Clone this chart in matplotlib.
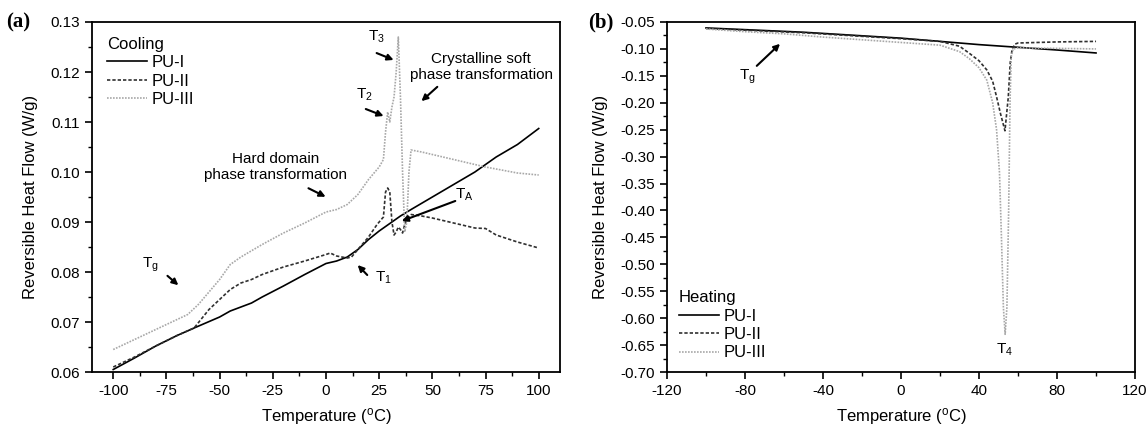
import numpy as np
import matplotlib as mpl
mpl.use('Agg')
import matplotlib.pyplot as plt
from matplotlib.ticker import MultipleLocator

plt.rcParams['font.family'] = ['Liberation Sans', 'DejaVu Sans']
plt.rcParams['mathtext.fontset'] = 'custom'
plt.rcParams['mathtext.rm'] = 'Liberation Sans'
plt.rcParams['mathtext.it'] = 'Liberation Sans'
plt.rcParams['axes.unicode_minus'] = False

# ---- (a) cooling ----
T_a1 = [-100, -90, -80, -70, -62, -50, -45, -40, -35, -30, -20, -10, 0, 5, 10, 15, 20, 25, 30,
        35, 40, 50, 60, 70, 75, 80, 90, 100]
a_pu1 = [0.0605, 0.0628, 0.0652, 0.0673, 0.0688, 0.0710, 0.0722, 0.0730, 0.0738, 0.0750, 0.0772,
         0.0795, 0.0817, 0.0822, 0.0830, 0.0845, 0.0865, 0.0882, 0.0897, 0.0912, 0.0925, 0.0950,
         0.0975, 0.1000, 0.1015, 0.1030, 0.1055, 0.1087]

T_a2 = [-100, -90, -80, -70, -62, -55, -50, -45, -40, -35, -30, -20, -10, 0, 2, 5, 10, 12, 15, 20,
        24, 26, 27, 28, 29, 30, 31, 32, 33, 34, 35, 36, 37, 38, 40, 45, 50, 60, 70, 75, 80, 90, 100]
a_pu2 = [0.0610, 0.0630, 0.0652, 0.0673, 0.0688, 0.0725, 0.0745, 0.0765, 0.0778, 0.0785, 0.0795,
         0.0810, 0.0822, 0.0835, 0.0838, 0.0832, 0.0828, 0.0830, 0.0845, 0.0870, 0.0895, 0.0905,
         0.0910, 0.0960, 0.0968, 0.0960, 0.0900, 0.0874, 0.0880, 0.0890, 0.0885, 0.0878, 0.0895,
         0.0905, 0.0915, 0.0912, 0.0908, 0.0898, 0.0888, 0.0887, 0.0874, 0.0860, 0.0848]

T_a3 = [-100, -90, -80, -70, -65, -60, -55, -50, -45, -40, -30, -20, -10, 0, 5, 10, 15, 20, 25,
        27, 28, 29, 30, 31, 32, 33, 34, 35, 36, 37, 38, 39, 40, 45, 50, 60, 75, 90, 100]
a_pu3 = [0.0645, 0.0665, 0.0685, 0.0705, 0.0715, 0.0735, 0.0760, 0.0785, 0.0815, 0.0830, 0.0855,
         0.0878, 0.0898, 0.0920, 0.0925, 0.0935, 0.0955, 0.0985, 0.1010, 0.1025, 0.1080, 0.1120,
         0.1100, 0.1130, 0.1150, 0.1200, 0.1270, 0.1150, 0.1000, 0.0880, 0.0900, 0.1000, 0.1044,
         0.1040, 0.1035, 0.1025, 0.1010, 0.0998, 0.0994]

# ---- (b) heating ----
T_b1 = [-100, -50, 0, 20, 40, 60, 80, 100]
b_pu1 = [-0.061, -0.069, -0.080, -0.086, -0.092, -0.097, -0.102, -0.1075]

T_b2 = [-100, -50, 0, 20, 30, 35, 40, 44, 47, 49, 51, 53.3, 55, 56, 57, 58.5, 60, 80, 100]
b_pu2 = [-0.062, -0.070, -0.081, -0.086, -0.095, -0.108, -0.122, -0.139, -0.160, -0.189, -0.220,
         -0.252, -0.190, -0.126, -0.100, -0.091, -0.089, -0.087, -0.086]

T_b3 = [-100, -80, -60, -40, -20, 0, 20, 30, 35, 40, 44, 47, 49, 50.5, 51.5, 52.5, 53.4, 54.3,
        55.2, 55.9, 56.5, 57.5, 60, 80, 100]
b_pu3 = [-0.063, -0.068, -0.072, -0.078, -0.083, -0.088, -0.093, -0.105, -0.118, -0.135, -0.158,
         -0.200, -0.250, -0.330, -0.450, -0.580, -0.630, -0.580, -0.400, -0.200, -0.115, -0.100,
         -0.098, -0.099, -0.100]

labels = ["PU-I", "PU-II", "PU-III"]
styles = [dict(color="black", lw=1.2, ls="-"),
          dict(color="#303030", lw=1.2, ls=(0, (2.0, 1.2))),
          dict(color="#a8a8a8", lw=1.2, ls=(0, (1.0, 0.8)))]

fig = plt.figure(figsize=(11.48, 4.28), dpi=100)
axa = fig.add_axes([0.0801, 0.1308, 0.4077, 0.8178])
axb = fig.add_axes([0.5810, 0.1308, 0.4077, 0.8178])

for x, y, lab, st in zip([T_a1, T_a2, T_a3], [a_pu1, a_pu2, a_pu3], labels, styles):
    axa.plot(x, y, label=lab, **st)
for x, y, lab, st in zip([T_b1, T_b2, T_b3], [b_pu1, b_pu2, b_pu3], labels, styles):
    axb.plot(x, y, label=lab, **st)

axa.set_xlim(-110, 110)
axa.set_ylim(0.06, 0.13)
axa.xaxis.set_major_locator(MultipleLocator(25))
axa.xaxis.set_minor_locator(MultipleLocator(12.5))
axa.yaxis.set_major_locator(MultipleLocator(0.01))
axa.yaxis.set_minor_locator(MultipleLocator(0.005))
axa.yaxis.set_major_formatter(mpl.ticker.FormatStrFormatter('%.2f'))

axb.set_xlim(-120, 120)
axb.set_ylim(-0.70, -0.05)
axb.xaxis.set_major_locator(MultipleLocator(40))
axb.xaxis.set_minor_locator(MultipleLocator(20))
axb.yaxis.set_major_locator(MultipleLocator(0.05))
axb.yaxis.set_minor_locator(MultipleLocator(0.025))
axb.yaxis.set_major_formatter(mpl.ticker.FormatStrFormatter('%.2f'))

for _ax in [axa, axb]:
    _ax.tick_params(which='major', direction='out', length=5, width=1.2, labelsize=11)
    _ax.tick_params(which='minor', direction='out', length=3, width=1.0)
    for sp in _ax.spines.values():
        sp.set_linewidth(1.3)
    _ax.set_xlabel("Temperature ($^{\\mathrm{o}}$C)", fontsize=12, labelpad=6)
    _ax.set_ylabel("Reversible Heat Flow (W/g)", fontsize=12, labelpad=9)

leg = axa.legend(title="Cooling", loc="upper left", frameon=False, fontsize=12,
                 title_fontsize=12, handlelength=2.4, handletextpad=0.3,
                 labelspacing=0.2, borderaxespad=0.5)
leg._legend_box.align = "left"
leg = axb.legend(title="Heating", loc="lower left", frameon=False, fontsize=12,
                 title_fontsize=12, handlelength=2.4, handletextpad=0.3,
                 labelspacing=0.2, borderaxespad=0.3)
leg._legend_box.align = "left"

fig.text(0.005, 0.948, "(a)", fontsize=15, fontweight="bold", family="Liberation Serif", va="center")
fig.text(0.512, 0.948, "(b)", fontsize=15, fontweight="bold", family="Liberation Serif", va="center")

arr = dict(arrowstyle="-|>", color="black", lw=1.5, mutation_scale=9)
afs = 11

axa.text(23.6, 0.1270, "T$_3$", fontsize=afs, ha="center", va="center")
axa.annotate("", xy=(33, 0.1222), xytext=(22.6, 0.1240), arrowprops=arr)
axa.text(18, 0.1154, "T$_2$", fontsize=afs, ha="center", va="center")
axa.annotate("", xy=(28.3, 0.1110), xytext=(17.5, 0.1128), arrowprops=arr)
axa.text(73, 0.1210, "Crystalline soft\nphase transformation", fontsize=afs, ha="center", va="center",
         linespacing=1.2)
axa.annotate("", xy=(43.9, 0.1138), xytext=(53.3, 0.1174), arrowprops=arr)
axa.text(-23.6, 0.1010, "Hard domain\nphase transformation", fontsize=afs, ha="center", va="center",
         linespacing=1.2)
axa.annotate("", xy=(1, 0.0948), xytext=(-9.4, 0.0970), arrowprops=arr)
axa.text(65, 0.0954, "T$_\\mathrm{A}$", fontsize=afs, ha="center", va="center")
axa.annotate("", xy=(34.4, 0.0900), xytext=(62, 0.0944), arrowprops=arr)
axa.text(27, 0.0788, "T$_1$", fontsize=afs, ha="center", va="center")
axa.annotate("", xy=(14, 0.0818), xytext=(20.3, 0.0790), arrowprops=arr)
axa.text(-82.5, 0.0814, "T$_g$", fontsize=afs, ha="center", va="center")
axa.annotate("", xy=(-68.4, 0.0770), xytext=(-75.5, 0.0796), arrowprops=arr)

axb.text(-79, -0.152, "T$_g$", fontsize=afs, ha="center", va="center")
axb.annotate("", xy=(-61, -0.087), xytext=(-75, -0.135), arrowprops=arr)
axb.text(53.3, -0.659, "T$_4$", fontsize=afs, ha="center", va="center")

fig.savefig("out.png", dpi=100)
